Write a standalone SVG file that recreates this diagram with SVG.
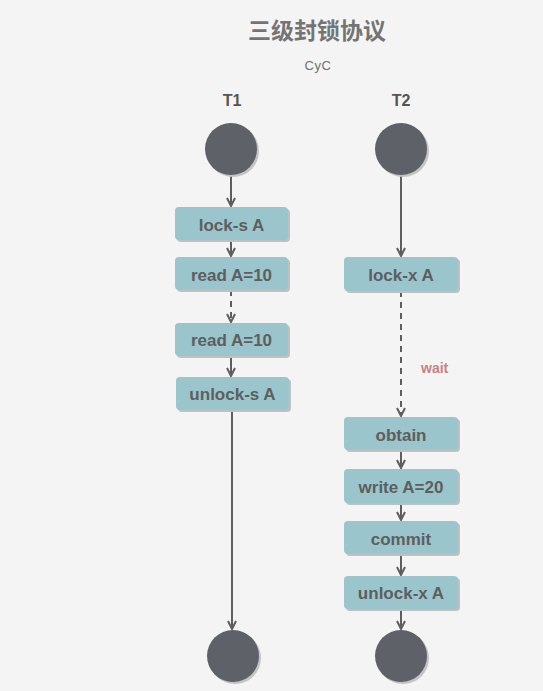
<svg xmlns="http://www.w3.org/2000/svg" width="543" height="691" viewBox="0 0 543 691">
<defs>
<marker id="arr" viewBox="0 0 10 10" refX="9" refY="5" markerWidth="10" markerHeight="10" markerUnits="userSpaceOnUse" orient="auto">
<path d="M1,1 L9,5 L1,9" fill="none" stroke="#5e5e5e" stroke-width="2"/>
</marker>
</defs>
<style>
.bg{fill:#f4f4f4}
.title{font-family:"Noto Sans CJK SC","Liberation Sans",sans-serif;font-weight:bold;font-size:23px;fill:#747474}
.sub{font-family:"Liberation Sans",sans-serif;font-size:13px;fill:#707070;letter-spacing:0.5px}
.lane{font-family:"Liberation Sans",sans-serif;font-weight:bold;font-size:16px;fill:#555}
.circ{fill:#5f6169}
.cshadow{fill:#c4c4c4}
.box{fill:#9ac5cc}
.bshadow{fill:#c0c0c0}
.lbl{font-family:"Liberation Sans",sans-serif;font-weight:bold;font-size:17px;fill:#5e5e5e;text-anchor:middle}
.wait{font-family:"Liberation Sans",sans-serif;font-weight:bold;font-size:14px;fill:#c98282}
.edge{stroke:#5e5e5e;stroke-width:2;fill:none;marker-end:url(#arr)}
.dash{stroke-dasharray:6,5}
</style>
<rect class="bg" width="543" height="691"/>
<text class="title" x="317" y="39" text-anchor="middle">三级封锁协议</text>
<text class="sub" x="318" y="70" text-anchor="middle">CyC</text>
<text class="lane" x="232" y="106" text-anchor="middle">T1</text>
<text class="lane" x="401" y="106" text-anchor="middle">T2</text>

<g id="connectors">
<path class="edge" d="M231,175 L231,206"/>
<path class="edge" d="M231,240 L231,256"/>
<path class="edge dash" d="M231,290 L231,322"/>
<path class="edge" d="M231,356 L231,376"/>
<path class="edge" d="M232,410 L232,629"/>
<path class="edge" d="M401,175 L401,256"/>
<path class="edge dash" d="M401,291 L401,416"/>
<path class="edge" d="M401,450 L401,468"/>
<path class="edge" d="M401,503 L401,520"/>
<path class="edge" d="M401,554 L401,575"/>
<path class="edge" d="M401,609 L401,629"/>
<text class="wait" x="421" y="373">wait</text>
</g>

<g id="t1-start"><circle class="cshadow" cx="233" cy="151" r="26"/><circle class="circ" cx="231" cy="149" r="26"/></g>
<g id="t2-start"><circle class="cshadow" cx="403" cy="151" r="26"/><circle class="circ" cx="401" cy="149" r="26"/></g>
<g id="t1-end"><circle class="cshadow" cx="235" cy="658" r="26"/><circle class="circ" cx="233" cy="656" r="26"/></g>
<g id="t2-end"><circle class="cshadow" cx="403" cy="658" r="26"/><circle class="circ" cx="401" cy="656" r="26"/></g>

<g id="lock-s"><rect class="bshadow" x="177" y="209" width="113" height="33" rx="4"/><rect class="box" x="175" y="207" width="113" height="33" rx="4"/><text class="lbl" x="231.5" y="231">lock-s A</text></g>
<g id="read1"><rect class="bshadow" x="177" y="259" width="113" height="33" rx="4"/><rect class="box" x="175" y="257" width="113" height="33" rx="4"/><text class="lbl" x="231.5" y="281">read A=10</text></g>
<g id="read2"><rect class="bshadow" x="177" y="325" width="113" height="33" rx="4"/><rect class="box" x="175" y="323" width="113" height="33" rx="4"/><text class="lbl" x="231.5" y="346">read A=10</text></g>
<g id="unlock-s"><rect class="bshadow" x="178" y="379" width="113" height="33" rx="4"/><rect class="box" x="176" y="377" width="113" height="33" rx="4"/><text class="lbl" x="232.5" y="400">unlock-s A</text></g>

<g id="lock-x"><rect class="bshadow" x="346" y="259" width="114" height="34" rx="4"/><rect class="box" x="344" y="257" width="114" height="34" rx="4"/><text class="lbl" x="401" y="281">lock-x A</text></g>
<g id="obtain"><rect class="bshadow" x="346" y="419" width="114" height="33" rx="4"/><rect class="box" x="344" y="417" width="114" height="33" rx="4"/><text class="lbl" x="401" y="441">obtain</text></g>
<g id="write"><rect class="bshadow" x="346" y="471" width="114" height="34" rx="4"/><rect class="box" x="344" y="469" width="114" height="34" rx="4"/><text class="lbl" x="401" y="493">write A=20</text></g>
<g id="commit"><rect class="bshadow" x="346" y="523" width="114" height="33" rx="4"/><rect class="box" x="344" y="521" width="114" height="33" rx="4"/><text class="lbl" x="401" y="545">commit</text></g>
<g id="unlock-x"><rect class="bshadow" x="346" y="578" width="114" height="33" rx="4"/><rect class="box" x="344" y="576" width="114" height="33" rx="4"/><text class="lbl" x="401" y="599">unlock-x A</text></g>
</svg>
